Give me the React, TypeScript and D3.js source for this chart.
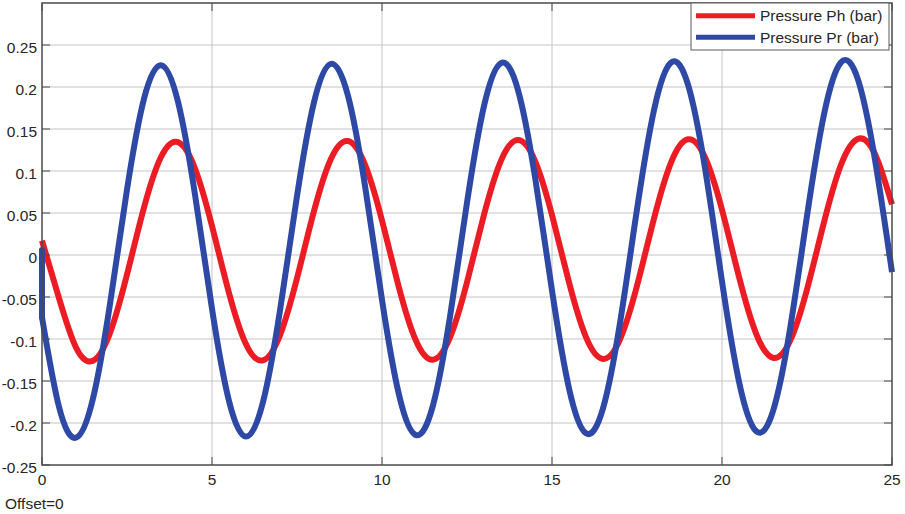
import * as d3 from "d3";

// time axis (s) sampled every 0.5
const time = d3.range(0, 25.01, 0.5);

// Pressure Ph (bar), read at each time sample
const phValues = [
  0.017, -0.0514, -0.1101, -0.1259, -0.0928, -0.0233, 0.0565, 0.1166, 0.1343, 0.103,
  0.0345, -0.0452, -0.1062, -0.1254, -0.0955, -0.0278, 0.0523, 0.1146, 0.1357, 0.1076,
  0.0411, -0.0389, -0.1021, -0.1247, -0.0981, -0.0323, 0.0479, 0.1124, 0.1368, 0.1121,
  0.0475, -0.0325, -0.0978, -0.1237, -0.1004, -0.0367, 0.0435, 0.11, 0.1377, 0.1163,
  0.0539, -0.026, -0.0933, -0.1225, -0.1025, -0.041, 0.039, 0.1074, 0.1383, 0.1203,
  0.0602,
];

// Pressure Pr (bar)
const prValues = [
  -0.074, -0.1808, -0.2175, -0.1709, -0.0583, 0.0778, 0.1861, 0.226, 0.1824, 0.0719,
  -0.064, -0.1738, -0.2162, -0.1751, -0.066, 0.0701, 0.1819, 0.2275, 0.1895, 0.0825,
  -0.0532, -0.1664, -0.2144, -0.179, -0.0736, 0.0623, 0.1774, 0.2285, 0.1963, 0.093,
  -0.0423, -0.1587, -0.2122, -0.1826, -0.081, 0.0544, 0.1726, 0.2291, 0.2027, 0.1034,
  -0.0314, -0.1507, -0.2096, -0.1858, -0.0883, 0.0464, 0.1674, 0.2293, 0.2087, 0.1135,
  -0.0204,
];

// start-up jump of Pr at t=0
const prStart: [number, number][] = [[0, 0.006], [0, -0.074]];

const xTicks = [0, 5, 10, 15, 20, 25];
const yTicks = [-0.25, -0.2, -0.15, -0.1, -0.05, 0, 0.05, 0.1, 0.15, 0.2, 0.25];
const seriesNames = ["Pressure Ph (bar)", "Pressure Pr (bar)"];
const seriesColors = ["#ec1c24", "#2e48a6"];

const W = 905;
const H = 514;
const left = 42;
const right = 892;
const top = 3;
const bottom = 465;
const font = "'Liberation Sans', Arial, sans-serif";

export default function App() {
  const x = d3.scaleLinear().domain([0, 25]).range([left, right]);
  const y = d3.scaleLinear().domain([-0.25, 0.3]).range([bottom, top]);

  const phPts: [number, number][] = time.map((t, i) => [t, phValues[i]]);
  const prPts: [number, number][] = time.map((t, i) => [t, prValues[i]]);

  const smooth = d3
    .line<[number, number]>()
    .x((d) => x(d[0]))
    .y((d) => y(d[1]))
    .curve(d3.curveNatural);
  const straight = d3
    .line<[number, number]>()
    .x((d) => x(d[0]))
    .y((d) => y(d[1]));

  const fmt = (v: number) => String(Math.round(v * 100) / 100);

  return (
    <svg
      width={W}
      height={H}
      style={{ position: "absolute", left: 0, top: 0, background: "#fff" }}
      fontFamily={font}
    >
      <rect x={0} y={0} width={W} height={H} fill="#fff" />
      {/* grid */}
      {xTicks.slice(1, -1).map((t) => (
        <line key={"gx" + t} x1={x(t)} x2={x(t)} y1={top} y2={bottom} stroke="#c4c4c4" strokeWidth={1} />
      ))}
      {yTicks.slice(1).map((t) => (
        <line key={"gy" + t} x1={left} x2={right} y1={y(t)} y2={y(t)} stroke="#c4c4c4" strokeWidth={1} />
      ))}
      {/* series */}
      <path d={smooth(phPts) || ""} fill="none" stroke={seriesColors[0]} strokeWidth={6} strokeLinejoin="round" />
      <path d={straight(prStart) || ""} fill="none" stroke={seriesColors[1]} strokeWidth={6} strokeLinecap="round" />
      <path d={smooth(prPts) || ""} fill="none" stroke={seriesColors[1]} strokeWidth={6} strokeLinejoin="round" />
      {/* frame */}
      <rect x={left} y={top} width={right - left} height={bottom - top} fill="none" stroke="#4a4a4a" strokeWidth={1.5} />
      {/* ticks */}
      {xTicks.map((t) => (
        <g key={"tx" + t}>
          <line x1={x(t)} x2={x(t)} y1={bottom} y2={bottom - 8} stroke="#4a4a4a" />
          <line x1={x(t)} x2={x(t)} y1={top} y2={top + 8} stroke="#4a4a4a" />
          <text x={x(t)} y={485} textAnchor="middle" fontSize={15.5} fill="#262626">
            {fmt(t)}
          </text>
        </g>
      ))}
      {yTicks.map((t) => (
        <g key={"ty" + t}>
          <line x1={left} x2={left + 8} y1={y(t)} y2={y(t)} stroke="#4a4a4a" />
          <line x1={right} x2={right - 8} y1={y(t)} y2={y(t)} stroke="#4a4a4a" />
          <text x={37} y={y(t) + 8} textAnchor="end" fontSize={15.5} fill="#262626">
            {fmt(t)}
          </text>
        </g>
      ))}
      <text x={5} y={509} fontSize={15.5} fill="#262626">
        Offset=0
      </text>
      {/* legend */}
      <rect x={691} y={3} width={198} height={47} fill="#fff" stroke="#5a5a5a" strokeWidth={1} />
      {seriesNames.map((name, i) => (
        <g key={name}>
          <line x1={696} x2={755} y1={15.7 + i * 21.6} y2={15.7 + i * 21.6} stroke={seriesColors[i]} strokeWidth={5} />
          <text x={760} y={21.2 + i * 21.6} fontSize={15.5} fill="#262626">
            {name}
          </text>
        </g>
      ))}
    </svg>
  );
}
